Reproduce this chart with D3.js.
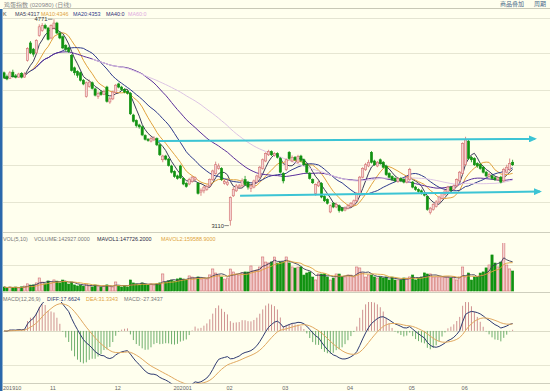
<!DOCTYPE html>
<html lang="zh">
<head>
<meta charset="UTF-8">
<title>鸡蛋指数 日线</title>
<script src="https://d3js.org/d3.v7.min.js"></script>
<style type="text/css">
    body { margin: 0; background: #ffffee; }
    svg { display: block; font-family: "Liberation Sans", "Noto Sans CJK SC", sans-serif; }
</style>
</head>
<body>
<div id="chart"></div>
<script type="text/javascript">
// daily bars, 201910 .. 202006
var opens = [4340,4310,4295,4345,4315,4305,4335,4305,4440,4580,
    4530,4500,4640,4680,4720,4700,4620,4700,4740,4660,
    4630,4560,4540,4480,4380,4350,4340,4280,4150,4230,
    4260,4210,4150,4185,4165,4225,4105,4130,4180,4250,
    4225,4205,4190,4175,4000,3955,3920,3905,3835,3805,
    3790,3800,3810,3760,3640,3670,3645,3590,3545,3510,
    3590,3490,3450,3445,3465,3480,3450,3380,3390,3400,
    3430,3480,3530,3570,3570,3450,3440,3150,3350,3390,
    3420,3430,3480,3460,3410,3420,3460,3500,3570,3630,
    3680,3705,3675,3690,3650,3530,3560,3700,3630,3660,
    3620,3670,3640,3600,3530,3480,3370,3430,3450,3345,
    3320,3220,3290,3260,3270,3250,3235,3250,3265,3280,
    3310,3360,3500,3560,3590,3700,3630,3590,3640,3620,
    3590,3530,3505,3490,3465,3490,3480,3460,3480,3460,
    3420,3400,3390,3370,3345,3215,3240,3265,3300,3330,
    3360,3380,3420,3400,3430,3470,3530,3600,3790,3660,
    3650,3610,3600,3580,3540,3505,3510,3495,3480,3500,
    3470,3540,3560,3620];
var highs = [4350,4325,4355,4365,4330,4340,4345,4345,4545,4595,
    4540,4610,4730,4740,4735,4710,4730,4771,4750,4670,
    4640,4570,4550,4490,4390,4360,4350,4290,4270,4285,
    4270,4220,4190,4200,4205,4235,4145,4195,4250,4260,
    4235,4215,4200,4185,4010,3965,3930,3915,3845,3815,
    3825,3830,3820,3770,3680,3680,3655,3600,3555,3520,
    3600,3500,3460,3495,3510,3505,3460,3410,3430,3440,
    3490,3560,3625,3610,3580,3480,3480,3345,3420,3445,
    3445,3490,3510,3470,3440,3480,3520,3590,3650,3700,
    3720,3715,3700,3700,3660,3540,3650,3710,3675,3670,
    3680,3680,3650,3610,3540,3490,3450,3470,3460,3355,
    3330,3280,3300,3295,3280,3260,3265,3285,3300,3320,
    3380,3510,3580,3615,3640,3710,3640,3630,3650,3630,
    3600,3540,3515,3500,3500,3500,3490,3510,3575,3470,
    3430,3410,3400,3380,3350,3260,3290,3315,3350,3380,
    3400,3430,3430,3440,3490,3550,3780,3825,3800,3670,
    3660,3620,3615,3590,3550,3535,3520,3505,3505,3510,
    3575,3600,3650,3640];
var lows = [4290,4280,4290,4300,4295,4300,4295,4300,4430,4490,
    4470,4490,4630,4670,4690,4600,4610,4690,4650,4610,
    4530,4510,4500,4350,4320,4300,4270,4240,4140,4220,
    4205,4150,4130,4155,4160,4100,4090,4120,4170,4215,
    4195,4175,4165,4000,3940,3900,3890,3830,3795,3785,
    3780,3790,3750,3670,3620,3635,3585,3530,3495,3480,
    3485,3435,3415,3435,3455,3470,3360,3350,3370,3390,
    3420,3470,3520,3560,3470,3440,3430,3110,3340,3380,
    3410,3420,3430,3400,3380,3410,3450,3490,3560,3620,
    3670,3670,3665,3650,3530,3450,3550,3640,3620,3630,
    3610,3620,3590,3530,3480,3445,3350,3420,3330,3300,
    3280,3210,3250,3250,3215,3220,3225,3240,3255,3270,
    3300,3350,3490,3550,3580,3610,3590,3580,3600,3570,
    3510,3490,3470,3460,3455,3460,3450,3450,3470,3410,
    3390,3375,3360,3345,3230,3200,3230,3255,3290,3320,
    3350,3370,3385,3390,3420,3460,3520,3590,3640,3620,
    3590,3575,3560,3530,3500,3495,3480,3470,3470,3450,
    3460,3530,3550,3590];
var closes = [4300,4290,4340,4310,4305,4330,4305,4330,4535,4500,
    4490,4600,4710,4720,4700,4610,4720,4740,4660,4620,
    4540,4530,4510,4360,4340,4320,4280,4250,4260,4265,
    4215,4160,4175,4165,4190,4110,4130,4185,4240,4225,
    4205,4185,4175,4010,3950,3915,3905,3840,3805,3795,
    3810,3815,3760,3680,3670,3645,3595,3540,3505,3490,
    3495,3445,3425,3480,3500,3495,3370,3395,3420,3425,
    3480,3550,3600,3590,3480,3465,3460,3335,3400,3430,
    3430,3470,3440,3420,3430,3470,3510,3580,3640,3690,
    3705,3680,3690,3660,3540,3470,3640,3650,3660,3640,
    3665,3635,3600,3540,3490,3455,3440,3460,3340,3310,
    3290,3270,3260,3280,3230,3230,3250,3270,3290,3310,
    3370,3500,3570,3600,3620,3620,3600,3620,3610,3580,
    3520,3500,3480,3470,3490,3470,3460,3500,3560,3420,
    3400,3385,3370,3355,3240,3250,3280,3300,3340,3370,
    3390,3420,3395,3430,3480,3540,3770,3800,3650,3640,
    3600,3590,3570,3540,3510,3520,3490,3480,3495,3460,
    3560,3580,3610,3600];
var volumes = [142927,138400,143200,139100,142600,138800,143500,147300,157200,151800,
    152400,161300,183600,165100,156900,170200,160700,174800,169500,161400,
    174300,165800,156300,165400,152300,147800,151600,147200,156700,147600,
    143300,152100,147400,142800,147900,152500,147100,143100,165600,147500,
    142900,147700,143400,174600,161200,156800,151900,160900,156400,152200,
    156600,151700,157100,161500,201800,165300,170400,174200,169800,179300,
    183200,178700,174900,192800,187600,183900,188300,178900,183400,179200,
    197300,224200,205800,196700,188100,178600,183700,223800,210400,201300,
    196900,206200,210700,210300,237600,214800,219700,232900,278200,255300,
    251200,255700,277800,250800,255400,255900,278100,251300,233200,228300,
    232800,233400,196800,206100,210600,187900,174700,201600,201200,201900,
    188200,174300,183300,201700,201400,187800,188400,197100,196600,188000,
    233100,228700,205900,187700,197200,196800,188300,183500,187900,183800,
    188100,174600,187600,174400,174800,174500,183600,183200,188200,197000,
    174900,183400,188000,206300,201500,201800,187800,188300,188100,187700,
    188400,187900,183700,188200,174600,188000,233000,188100,206000,174300,
    188200,187600,205700,210800,228900,242100,287200,250900,233300,255600,
    345400,241800,224300,214900];

var monthLabels = ['201910', '11', '12', '202001', '02', '03', '04', '05', '06'];
var monthStarts = [0, 16, 38, 58, 76, 95, 117, 138, 156];
var priceTicks = [4500, 4200, 3900, 3600, 3300];
var maDays = [5, 10, 20, 40, 60];
var maFirst = [0, 0, 0, 10, 30];
var maColors = ['#3c3c5a', '#e0a23c', '#2e3a8c', '#5a2e9a', '#dcc4e4'];
// drawn channel lines: [bar index, price]
var upperTrend = [[52.5, 3791], [180.6, 3808]];
var lowerTrend = [[80.3, 3351], [182.3, 3384]];

var w = 550, h = 391;
var upFill = '#f4d2d2', upStroke = '#d27070', downFill = '#119211';

var svg = d3.select('#chart').append('svg')
    .attr('width', w)
    .attr('height', h);

svg.append('rect').attr('width', w).attr('height', h).attr('fill', '#ffffee');

var x = d3.scaleLinear().domain([0, 173]).range([4, 512.6]);
var yPrice = d3.scaleLinear().domain([3300, 4500]).range([202, 52.9]);
var yVol = d3.scaleLinear().domain([125000, 350000]).range([291, 241]);
var yMacd = d3.scaleLinear().domain([-170, 99]).range([384, 300]);

var defs = svg.append('defs');
function clip(id, y0, y1) {
    defs.append('clipPath').attr('id', id).append('rect')
        .attr('x', 3).attr('y', y0).attr('width', w).attr('height', y1 - y0);
}
clip('cPrice', 18.5, 232.5);
clip('cVol', 243, 292.5);
clip('cMacd', 302, 383.5);
defs.append('marker').attr('id', 'arrow')
    .attr('markerUnits', 'userSpaceOnUse')
    .attr('markerWidth', 8).attr('markerHeight', 7)
    .attr('refX', 6).attr('refY', 3.5).attr('orient', 'auto')
    .append('path').attr('d', 'M0,0 L8,3.5 L0,7 Z').attr('fill', '#3cc4d4');

function hline(y, color) {
    svg.append('line').attr('x1', 3).attr('x2', w)
        .attr('y1', y).attr('y2', y)
        .attr('stroke', color).attr('stroke-width', 1);
}

// frame and grid
hline(8.5, '#c8c8b6');
hline(18.5, '#e4e4d2');
priceTicks.forEach(function (t) { hline(Math.round(yPrice(t)) + 0.5, '#e6e6d2'); });
hline(232.5, '#cfcfbe');
hline(Math.round(yVol(242000)) + 0.5, '#e6e6d2');
hline(292.5, '#cfcfbe');
hline(Math.round(yMacd(0)) + 0.5, '#dcdcc8');
hline(Math.round(yMacd(-109)) + 0.5, '#e6e6d2');
hline(383.5, '#cfcfbe');
svg.append('rect').attr('x', 0).attr('y', 9).attr('width', 2.5).attr('height', h - 9)
    .attr('fill', '#2a68ac');

// header texts
svg.append('text').attr('x', 4).attr('y', 6.5).attr('font-size', 6)
    .attr('fill', '#8a8a8a').text('鸡蛋指数 (020980) (日线)');
svg.append('text').attr('x', 500).attr('y', 6).attr('font-size', 6)
    .attr('fill', '#4a6a8a').text('商品叠加');
svg.append('text').attr('x', 534).attr('y', 6).attr('font-size', 6)
    .attr('fill', '#4a6a8a').text('周期');

function legend(y, items) {
    items.forEach(function (it) {
        svg.append('text').attr('x', it[0]).attr('y', y)
            .attr('font-size', 5.4).attr('fill', it[2]).text(it[1]);
    });
}
legend(15.5, [[3, 'K', '#444'], [15, 'MA5:4317', maColors[0]], [41, 'MA10:4346', maColors[1]],
    [73, 'MA20:4353', maColors[2]], [106, 'MA40:0', '#302a70'], [128, 'MA60:0', '#e0a8e0']]);
legend(240.5, [[3, 'VOL(5,10)', '#777'], [34, 'VOLUME:142927.0000', '#777'],
    [97, 'MAVOL1:147726.2000', '#2a2a44'], [161, 'MAVOL2:159588.9000', '#e0a23c']]);
legend(300.5, [[3, 'MACD(12,26,9)', '#777'], [47, 'DIFF:17.6624', '#2e3a70'],
    [86, 'DEA:31.3343', '#e0a23c'], [124, 'MACD:-27.3437', '#777']]);

var bars = closes.map(function (c, i) {
    return { i: i, o: opens[i], h: highs[i], l: lows[i], c: c, v: volumes[i], up: c >= opens[i] };
});

function movingAvg(values, n, first) {
    return values.map(function (d, i) {
        if (i < first) return null;
        return d3.mean(values.slice(Math.max(0, i - n + 1), i + 1));
    });
}
function ema(values, n) {
    var k = 2 / (n + 1), prev = values[0];
    return values.map(function (v, i) {
        prev = i === 0 ? v : prev + k * (v - prev);
        return prev;
    });
}

// price panel
var gPrice = svg.append('g').attr('clip-path', 'url(#cPrice)');

maDays.forEach(function (n, k) {
    var ma = movingAvg(closes, n, maFirst[k]);
    gPrice.append('path')
        .datum(ma)
        .attr('fill', 'none')
        .attr('stroke', maColors[k])
        .attr('stroke-width', 1)
        .attr('d', d3.line()
            .defined(function (d) { return d !== null; })
            .x(function (d, i) { return x(i); })
            .y(function (d) { return yPrice(d); }));
});

gPrice.selectAll('line.wick')
    .data(bars)
    .enter()
    .append('line')
    .attr('class', 'wick')
    .attr('x1', function (d) { return x(d.i); })
    .attr('x2', function (d) { return x(d.i); })
    .attr('y1', function (d) { return yPrice(d.h); })
    .attr('y2', function (d) { return yPrice(d.l); })
    .attr('stroke', function (d) { return d.up ? upStroke : downFill; })
    .attr('stroke-width', 0.8);

gPrice.selectAll('rect.body')
    .data(bars)
    .enter()
    .append('rect')
    .attr('class', 'body')
    .attr('x', function (d) { return x(d.i) - 1.1; })
    .attr('width', 2.2)
    .attr('y', function (d) { return yPrice(Math.max(d.o, d.c)); })
    .attr('height', function (d) { return Math.max(1, Math.abs(yPrice(d.o) - yPrice(d.c))); })
    .attr('fill', function (d) { return d.up ? upFill : downFill; })
    .attr('stroke', function (d) { return d.up ? upStroke : downFill; })
    .attr('stroke-width', 0.6);

[upperTrend, lowerTrend].forEach(function (t) {
    svg.append('line')
        .attr('x1', x(t[0][0])).attr('y1', yPrice(t[0][1]))
        .attr('x2', x(t[1][0])).attr('y2', yPrice(t[1][1]))
        .attr('stroke', '#3cc4d4')
        .attr('stroke-width', 2)
        .attr('marker-end', 'url(#arrow)');
});

// high / low marks
var hiIdx = d3.maxIndex(highs), loIdx = d3.minIndex(lows);
[[hiIdx, highs[hiIdx]], [loIdx, lows[loIdx]]].forEach(function (m) {
    var px = x(m[0]), py = yPrice(m[1]);
    svg.append('line').attr('x1', px - 6).attr('x2', px - 1.5)
        .attr('y1', py).attr('y2', py).attr('stroke', '#555').attr('stroke-width', 0.7);
    svg.append('text').attr('x', px - 6.5).attr('y', py + 2.2)
        .attr('text-anchor', 'end').attr('font-size', 5.8).attr('fill', '#333')
        .text(m[1]);
});

// volume panel
var gVol = svg.append('g').attr('clip-path', 'url(#cVol)');
gVol.selectAll('rect')
    .data(bars)
    .enter()
    .append('rect')
    .attr('x', function (d) { return x(d.i) - 1.1; })
    .attr('width', 2.2)
    .attr('y', function (d) { return yVol(d.v); })
    .attr('height', function (d) { return yVol(125000) - yVol(d.v); })
    .attr('fill', function (d) { return d.up ? upFill : downFill; })
    .attr('stroke', function (d) { return d.up ? upStroke : downFill; })
    .attr('stroke-width', 0.6);

[[5, '#3c3c5a'], [10, '#e0a23c']].forEach(function (m) {
    gVol.append('path')
        .datum(movingAvg(volumes, m[0], 0))
        .attr('fill', 'none')
        .attr('stroke', m[1])
        .attr('stroke-width', 0.9)
        .attr('d', d3.line()
            .x(function (d, i) { return x(i); })
            .y(function (d) { return yVol(d); }));
});

// macd panel
var e12 = ema(closes, 12), e26 = ema(closes, 26);
var diff = e12.map(function (d, i) { return d - e26[i]; });
var dea = ema(diff, 9);
var hist = diff.map(function (d, i) { return 2 * (d - dea[i]); });

var gMacd = svg.append('g').attr('clip-path', 'url(#cMacd)');
gMacd.selectAll('line')
    .data(hist)
    .enter()
    .append('line')
    .attr('x1', function (d, i) { return x(i); })
    .attr('x2', function (d, i) { return x(i); })
    .attr('y1', yMacd(0))
    .attr('y2', function (d) { return yMacd(d); })
    .attr('stroke', function (d) { return d >= 0 ? '#c98686' : '#5da65d'; })
    .attr('stroke-width', 0.9);

[[diff, '#2e3a70'], [dea, '#e0a860']].forEach(function (s) {
    gMacd.append('path')
        .datum(s[0])
        .attr('fill', 'none')
        .attr('stroke', s[1])
        .attr('stroke-width', 1)
        .attr('d', d3.line()
            .x(function (d, i) { return x(i); })
            .y(function (d) { return yMacd(d); }));
});

// month axis
svg.selectAll('text.month')
    .data(monthLabels)
    .enter()
    .append('text')
    .attr('class', 'month')
    .attr('x', function (d, i) { return x(monthStarts[i]) - 1; })
    .attr('y', 390)
    .attr('font-size', 5.5)
    .attr('fill', '#666')
    .text(function (d) { return d; });
</script>
</body>
</html>
